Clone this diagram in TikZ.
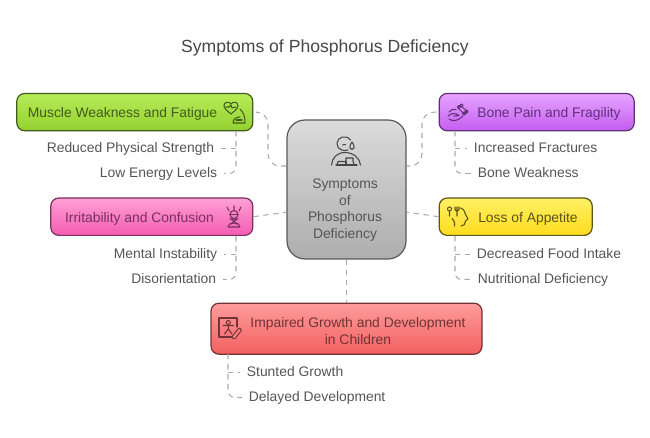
\documentclass[tikz,border=0pt]{standalone}
\usepackage{fontspec}
\setmainfont{Liberation Sans}
\usetikzlibrary{positioning}
\definecolor{inkgray}{RGB}{85, 85, 85}
\definecolor{linkgray}{RGB}{170, 170, 170}
\definecolor{musclelight}{RGB}{184, 236, 88}
\definecolor{muscledark}{RGB}{146, 208, 48}
\definecolor{muscleink}{RGB}{66, 92, 30}
\definecolor{bonelight}{RGB}{230, 165, 255}
\definecolor{bonedark}{RGB}{196, 92, 240}
\definecolor{boneink}{RGB}{98, 48, 122}
\definecolor{moodlight}{RGB}{255, 160, 214}
\definecolor{mooddark}{RGB}{244, 92, 178}
\definecolor{moodink}{RGB}{120, 48, 92}
\definecolor{appetitelight}{RGB}{255, 240, 100}
\definecolor{appetitedark}{RGB}{255, 220, 30}
\definecolor{appetiteink}{RGB}{92, 84, 24}
\definecolor{growthlight}{RGB}{255, 156, 156}
\definecolor{growthdark}{RGB}{242, 96, 96}
\definecolor{growthink}{RGB}{112, 52, 52}

\begin{document}
\begin{tikzpicture}[
    x=0.75pt, y=-0.75pt,
    symbox/.style={rounded corners=6pt, line width=0.9pt, inner sep=0pt, minimum height=28pt},
    musclebox/.style={symbox, top color=musclelight, bottom color=muscledark, draw=muscleink, minimum width=177pt},
    bonebox/.style={symbox, top color=bonelight, bottom color=bonedark, draw=boneink, minimum width=146.25pt},
    moodbox/.style={symbox, top color=moodlight, bottom color=mooddark, draw=moodink, minimum width=151.5pt},
    appetitebox/.style={symbox, top color=appetitelight, bottom color=appetitedark, draw=appetiteink, minimum width=114.75pt},
    growthbox/.style={symbox, top color=growthlight, bottom color=growthdark, draw=growthink, minimum width=203.25pt, minimum height=38.25pt},
    centerbox/.style={symbox, rounded corners=13.5pt, top color=black!14, bottom color=black!32, draw=black!65, minimum width=89.25pt, minimum height=104.25pt},
    boxtext/.style={font=\fontsize{10.4}{12.5}\selectfont, align=center, inner sep=0pt, yshift=-1.3pt},
    sublabel/.style={font=\fontsize{10.4}{12.5}\selectfont, text=inkgray, inner ysep=0pt, inner xsep=5pt, text height=7.6pt, text depth=2.2pt, yshift=-1.1pt},
    link/.style={draw=linkgray, line width=0.8pt, dash pattern=on 4pt off 3.5pt, rounded corners=5pt},
    icon/.style={line width=0.8pt, line cap=round, line join=round}
  ]
  \useasboundingbox (0,0) rectangle (650,438);

  \node[font=\fontsize{13.2}{15}\selectfont, text=black!72, inner sep=0pt, yshift=-1.3pt] (title) at (325,46) {Symptoms of Phosphorus Deficiency};

  % Boxes
  \node[centerbox] (center) at (346.5,189.5) {};
  \node[musclebox,  above left=-9pt and 24.75pt of center.north west]  (muscle)   {};
  \node[bonebox,    above right=-9pt and 24pt of center.north east]    (bone)     {};
  \node[moodbox,    left=24.75pt of center, yshift=-20.4pt]            (mood)     {};
  \node[appetitebox, right=24pt of center, yshift=-20.4pt]             (appetite) {};
  \node[growthbox,  below=32.25pt of center]                           (growth)   {};

  % Box texts
  \node[boxtext, text=muscleink]   (muscletext)   at (122.5,112) {Muscle Weakness and Fatigue};
  \node[boxtext, text=boneink]     (bonetext)     at (549,112)   {Bone Pain and Fragility};
  \node[boxtext, text=moodink]     (moodtext)     at (139.5,217) {Irritability and Confusion};
  \node[boxtext, text=appetiteink] (appetitetext) at (528,217)   {Loss of Appetite};
  \node[boxtext, text=growthink]   (growthtext)   at (358,329)   {Impaired Growth and Development\\in Children};
  \node[boxtext, text=inkgray]     (centertext)   at (345,208.5) {Symptoms\\of\\Phosphorus\\Deficiency};

  % Sub labels
  \node[sublabel, anchor=east] (strength)    at (221,147) {Reduced Physical Strength};
  \node[sublabel, anchor=east] (energy)      at (224,172) {Low Energy Levels};
  \node[sublabel, anchor=east] (instability) at (224,253) {Mental Instability};
  \node[sublabel, anchor=east] (disorient)   at (223,278) {Disorientation};
  \node[sublabel, anchor=west] (fractures)   at (467,147) {Increased Fractures};
  \node[sublabel, anchor=west] (weakness)    at (471,172) {Bone Weakness};
  \node[sublabel, anchor=west] (intake)      at (470,253) {Decreased Food Intake};
  \node[sublabel, anchor=west] (nutrition)   at (471,278) {Nutritional Deficiency};
  \node[sublabel, anchor=west] (stunted)     at (240,371) {Stunted Growth};
  \node[sublabel, anchor=west] (delayed)     at (242,396) {Delayed Development};

  % Bus starts
  \coordinate (musclebus)   at (236,131);
  \coordinate (moodbus)     at (236,236);
  \coordinate (bonebus)     at (455,131);
  \coordinate (appetitebus) at (455,236);
  \coordinate (growthbus)   at (228,354);
  \coordinate (musclebend)  at (268,140);
  \coordinate (bonebend)    at (422,140);

  % Links from center
  \draw[link, rounded corners=9pt] ([xshift=3pt]muscle.east) -| (musclebend) |- ([yshift=17.6pt]center.west);
  \draw[link, rounded corners=9pt] ([xshift=-1.5pt]bone.west) -| (bonebend) |- ([yshift=17.6pt]center.east);
  \draw[link] (mood.east) -- ([yshift=-17pt]center.west);
  \draw[link] (appetite.west) -- ([yshift=-17pt]center.east);
  \draw[link] (center.south) -- (growth.north);

  % Links to sub labels
  \draw[link] (musclebus) |- (energy.east);
  \draw[link] (musclebus |- strength) -- (strength.east);
  \draw[link] (moodbus) |- (disorient.east);
  \draw[link] (moodbus |- instability) -- (instability.east);
  \draw[link] (bonebus) |- (weakness.west);
  \draw[link] (bonebus |- fractures) -- (fractures.west);
  \draw[link] (appetitebus) |- (nutrition.west);
  \draw[link] (appetitebus |- intake) -- (intake.west);
  \draw[link] (growthbus) |- (delayed.west);
  \draw[link] (growthbus |- stunted) -- (stunted.west);

  % Icon heart and arm
  \begin{scope}[icon, draw=muscleink]
    \draw (231,114) .. controls (226,110) and (224,108) .. (224,105.5) .. controls (224,102) and (229,101) .. (231,104) .. controls (233,101) and (238,102) .. (238,105.5) .. controls (238,108) and (236,110) .. (231,114);
    \draw (226,107) -- (229,107) -- (231,105) -- (232,108) -- (236,107);
    \draw (240,109) .. controls (244,113) and (245,117) .. (245,123) -- (233,123) .. controls (233,119) and (236,117) .. (240,117);
    \draw (236,120) -- (242,120);
  \end{scope}

  % Icon bone and hand
  \begin{scope}[icon, draw=boneink]
    \draw[double=bonelight!70!bonedark, double distance=1.8pt] (460,107.5) -- (465,112);
    \draw (459,107) circle (1.6) (461.5,105.5) circle (1.6) (464,113.5) circle (1.6) (466.5,111.5) circle (1.6);
    \draw (449,112) .. controls (451,109.5) and (453,109) .. (456,109.5);
    \draw (448,116) .. controls (452,112.5) and (456,113) .. (459,115.5) -- (454,116);
    \draw (449,119) .. controls (453,122) and (458,121) .. (463,116);
  \end{scope}

  % Icon head with rays
  \begin{scope}[icon, draw=moodink]
    \draw (227,207) -- (229,211) (234,206) -- (234,210) (241,207) -- (239,211);
    \draw (234,214.5) circle (4);
    \draw (230,214.5) -- (238,214.5);
    \draw (230,219) -- (238,219) (231,219) -- (237,224) (237,219) -- (231,224);
    \draw (228,227) .. controls (228,224) and (231,223) .. (234,223) .. controls (237,223) and (240,224) .. (240,227) -- cycle;
  \end{scope}

  % Icon fork and head
  \begin{scope}[icon, draw=appetiteink]
    \draw (449.5,209) circle (2) (449.5,211) -- (449.5,216);
    \draw (455,207) -- (455,209.5) .. controls (455,211.5) and (459,211.5) .. (459,209.5) -- (459,207) (457,207) -- (457,216);
    \draw (460.5,208) .. controls (464,209) and (465,212) .. (465.5,214.5) -- (468,219) -- (465.5,221) .. controls (465.5,224) and (464,226) .. (461,226);
    \draw (452,218.5) .. controls (453,220) and (454.5,221) .. (454.5,222.5) -- (454.5,226);
  \end{scope}

  % Icon board and pencil
  \begin{scope}[icon, draw=growthink]
    \draw (232,337) -- (219,337) -- (219,318) -- (237,318) -- (237,327);
    \draw (228.3,322.5) circle (2);
    \draw (223,325.5) -- (233.5,325.5) (228.3,324.5) -- (228.3,329) (224.5,334) -- (228.3,329) -- (232,334);
    \draw[double=growthlight!50!growthdark, double distance=1.8pt] (234,337) -- (239.5,330);
  \end{scope}

  % Icon person, tear and chart
  \begin{scope}[icon, draw=black!72]
    \draw (350.5,140) .. controls (346,134) and (337,137) .. (337,143.5) .. controls (337,149) and (343,152) .. (348,150);
    \draw (342.5,145) -- (345.5,144.5);
    \draw (352,142) .. controls (350,145) and (349.5,147) .. (350,148) .. controls (351,150) and (353,150) .. (354,148) .. controls (354.5,147) and (354,145) .. (352,142);
    \draw (331.5,165) .. controls (332,158) and (337,152.5) .. (345,152.5) .. controls (353,152.5) and (360,158) .. (360.5,165);
    \draw (337,165) -- (338,161.5) -- (346,161.5) -- (346,158) -- (353,158) -- (353,161.5) -- (354.5,165);
    \draw (336,165) -- (357,165) (346,161.5) -- (346,165);
  \end{scope}
\end{tikzpicture}
\end{document}
